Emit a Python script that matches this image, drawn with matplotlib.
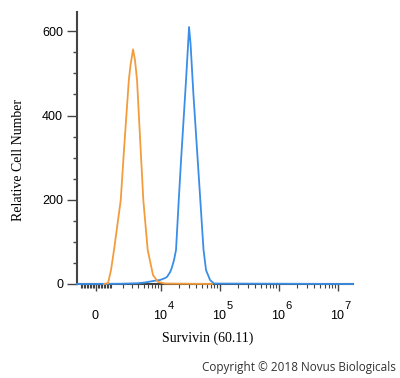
import numpy as np
import matplotlib
matplotlib.use('Agg')
import matplotlib.pyplot as plt
import matplotlib.transforms as mtransforms

# histogram outlines (fluorescence, cell count)
orange_x = [508, 777, 990, 1219, 1794, 2115, 2656, 2869, 3207, 3490, 3803, 4432, 4941, 5904, 7310, 8930, 11760, 73900]
orange_y = [0, 2, 33, 81, 199, 318, 484, 520, 557, 531, 484, 318, 199, 81, 21, 5, 1, 0]

blue_x = [-1299, 1730, 3803, 5300, 7310, 9670, 11760, 12740, 14340, 15320, 16750, 18120, 20150, 22060,
          24320, 26800, 28980, 30140, 31970, 35650, 40720, 46320, 50080, 53090, 58510, 68430, 80000, 1.81e7]
blue_y = [0, 0.5, 1.7, 3.6, 7.1, 9.5, 14, 17, 28, 38, 57, 81, 199, 294,
          389, 484, 567, 610, 570, 453, 329, 209, 135, 81, 33, 9.5, 1, 0]

x_major = [0, 1e4, 1e5, 1e6, 1e7]
x_exponents = [None, '4', '5', '6', '7']   # None -> plain "0"
y_major = [0, 200, 400, 600]

plt.rcParams['font.family'] = 'Liberation Sans'

fig = plt.figure(figsize=(4, 3.78), dpi=100)
ax = fig.add_axes([77/400, 94/378, 276/400, 271.7/378])

ax.set_xscale('asinh', linear_width=1600)

ax.plot(blue_x, blue_y, color='#3a8ee6', lw=1.3, clip_on=False, zorder=3)
ax.plot(orange_x, orange_y, color='#f39c3d', lw=1.3, clip_on=False, zorder=4)

ax.set_xlim(-1299, 1.81e7)
ax.set_ylim(0, 645)

# minor ticks: linear part near zero, then 2..9 per decade
minor = [k*100 for k in range(-10, 10) if k != 0]
for dec in [1e3, 1e4, 1e5, 1e6]:
    minor += [m*dec for m in range(1, 10) if m*dec not in x_major]
ax.set_xticks(minor, minor=True)
ax.set_xticks(x_major, labels=['']*len(x_major))
ax.set_yticks(y_major)
ax.set_yticks(np.arange(50, 650, 50), minor=True)

# x tick labels drawn by hand so the exponent is nearly full size like the original
base = mtransforms.blended_transform_factory(ax.transData, ax.transAxes)
for xv, ex in zip(x_major, x_exponents):
    if ex is None:
        ax.text(xv, -0.116, '0', transform=mtransforms.offset_copy(base, fig, x=-1, y=0, units='dots'),
                ha='center', va='center', fontsize=9, clip_on=False)
    else:
        ax.text(xv, -0.116, '10', transform=mtransforms.offset_copy(base, fig, x=6, y=0, units='dots'),
                ha='right', va='center', fontsize=9, clip_on=False)
        ax.text(xv, -0.082, ex, transform=mtransforms.offset_copy(base, fig, x=7, y=0, units='dots'),
                ha='left', va='center', fontsize=8, clip_on=False)

for s in ['top', 'right']:
    ax.spines[s].set_visible(False)
for s in ['left', 'bottom']:
    ax.spines[s].set_color('#444444')
    ax.spines[s].set_linewidth(1.5)

ax.tick_params(axis='both', which='both', color='#444444', direction='out')
ax.tick_params(axis='x', which='major', length=5, width=1)
ax.tick_params(axis='x', which='minor', length=3, width=0.8)
ax.tick_params(axis='y', which='major', length=7, width=1, labelsize=9, pad=3)
ax.tick_params(axis='y', which='minor', length=3, width=1)

fig.text(19/400, 1 - 160/378, 'Relative Cell Number', rotation=90, ha='center', va='center',
         family='Liberation Serif', fontsize=10)
fig.text(208/400, 1 - 338/378, 'Survivin (60.11)', ha='center', va='center',
         family='Liberation Serif', fontsize=10)
fig.text(396/400, 1 - 368/378, 'Copyright © 2018 Novus Biologicals', ha='right', va='center',
         family='Open Sans', fontsize=8.5, color='#333333')

fig.savefig('out.png', dpi=100)
